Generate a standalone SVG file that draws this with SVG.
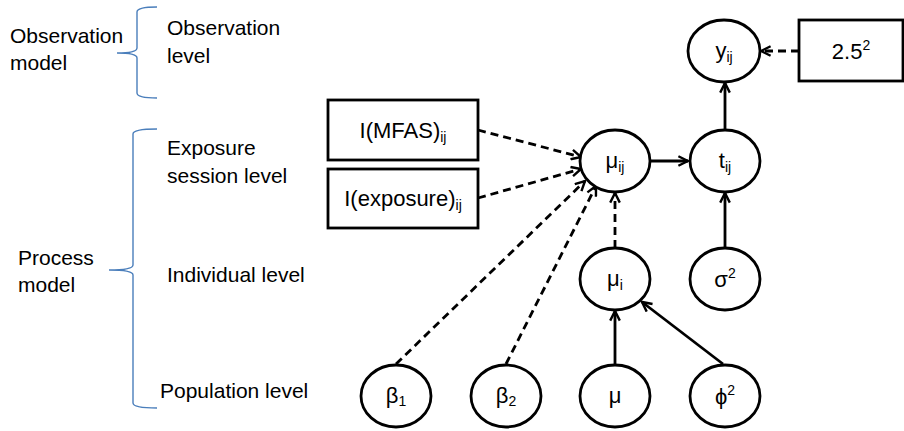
<svg xmlns="http://www.w3.org/2000/svg" width="904" height="431" viewBox="0 0 904 431">
<style>
text{font-family:"Liberation Sans",Arial,sans-serif;fill:#000}
.lbl{font-size:21px}
.nd{font-size:22px;text-anchor:middle}
.sub{font-size:14px}
.node ellipse,.node rect{fill:#fff;stroke:#000;stroke-width:2.8}
.br{fill:none;stroke:#4a7ebb;stroke-width:1.4}
.c{fill:none;stroke:#000;stroke-width:2.8;marker-end:url(#ah)}
.d{stroke-dasharray:8,5}
</style>
<defs>
<marker id="ah" viewBox="0 0 10 10" refX="9" refY="5" markerWidth="12" markerHeight="12" markerUnits="userSpaceOnUse" orient="auto">
<path d="M1,1 L9,5 L1,9" fill="none" stroke="#000" stroke-width="2"/>
</marker>
</defs>
<rect width="904" height="431" fill="#fff"/>
<g id="labels">
<text class="lbl" x="10" y="43">Observation</text>
<text class="lbl" x="10" y="70">model</text>
<text class="lbl" x="167" y="35">Observation</text>
<text class="lbl" x="167" y="63">level</text>
<text class="lbl" x="167" y="155">Exposure</text>
<text class="lbl" x="167" y="183">session level</text>
<text class="lbl" x="167" y="282">Individual level</text>
<text class="lbl" x="160" y="398">Population level</text>
<text class="lbl" x="18" y="265">Process</text>
<text class="lbl" x="18" y="292">model</text>
<path class="br" d="M157,7 Q137,7 137,12 L137,48 Q137,53 117,53 Q137,53 137,58 L137,93 Q137,98 157,98"/>
<path class="br" d="M157,129 Q133,129 133,134 L133,265 Q133,270 109,270 Q133,270 133,275 L133,403 Q133,408 157,408"/>
</g>
<g id="connectors">
<path class="c d" d="M478,130 L581,157"/>
<path class="c d" d="M478,198 L581,169"/>
<path class="c d" d="M396,364 L585,181"/>
<path class="c d" d="M506,364 L596,186"/>
<path class="c d" d="M615,248 L615,193"/>
<path class="c" d="M650,161 L688,161"/>
<path class="c" d="M725,248 L725,193"/>
<path class="c" d="M725,130 L725,83"/>
<path class="c d" d="M799,51 L761,51"/>
<path class="c" d="M615,364 L615,311"/>
<path class="c" d="M723,364 L642,302"/>
</g>
<g id="n_yij" class="node"><ellipse cx="724" cy="51" rx="36" ry="31"/><text class="nd" x="724" y="58">y<tspan class="sub" dy="4">ij</tspan></text></g>
<g id="n_25" class="node"><rect x="799" y="20" width="104" height="61"/><text class="nd" x="851" y="59">2.5<tspan class="sub" dy="-9">2</tspan></text></g>
<g id="n_mfas" class="node"><rect x="328" y="100" width="150" height="60"/><text class="nd" x="403" y="138">I(MFAS)<tspan class="sub" dy="4">ij</tspan></text></g>
<g id="n_exp" class="node"><rect x="328" y="169" width="150" height="59"/><text class="nd" x="403" y="206">I(exposure)<tspan class="sub" dy="4">ij</tspan></text></g>
<g id="n_muij" class="node"><ellipse cx="615" cy="161" rx="35" ry="31"/><text class="nd" x="615" y="168">μ<tspan class="sub" dy="4">ij</tspan></text></g>
<g id="n_tij" class="node"><ellipse cx="725" cy="161" rx="35" ry="31"/><text class="nd" x="725" y="168">t<tspan class="sub" dy="4">ij</tspan></text></g>
<g id="n_mui" class="node"><ellipse cx="615" cy="279" rx="35" ry="31"/><text class="nd" x="615" y="286">μ<tspan class="sub" dy="4">i</tspan></text></g>
<g id="n_sigma" class="node"><ellipse cx="725" cy="279" rx="35" ry="31"/><text class="nd" x="725" y="287">σ<tspan class="sub" dy="-9">2</tspan></text></g>
<g id="n_beta1" class="node"><ellipse cx="396" cy="396" rx="35" ry="31"/><text class="nd" x="396" y="403">β<tspan class="sub" dy="3">1</tspan></text></g>
<g id="n_beta2" class="node"><ellipse cx="506" cy="396" rx="35" ry="31"/><text class="nd" x="506" y="403">β<tspan class="sub" dy="3">2</tspan></text></g>
<g id="n_mu" class="node"><ellipse cx="615" cy="396" rx="35" ry="31"/><text class="nd" x="615" y="403">μ</text></g>
<g id="n_phi" class="node"><ellipse cx="725" cy="396" rx="35" ry="31"/><text class="nd" x="725" y="404">ϕ<tspan class="sub" dy="-9">2</tspan></text></g>
</svg>
